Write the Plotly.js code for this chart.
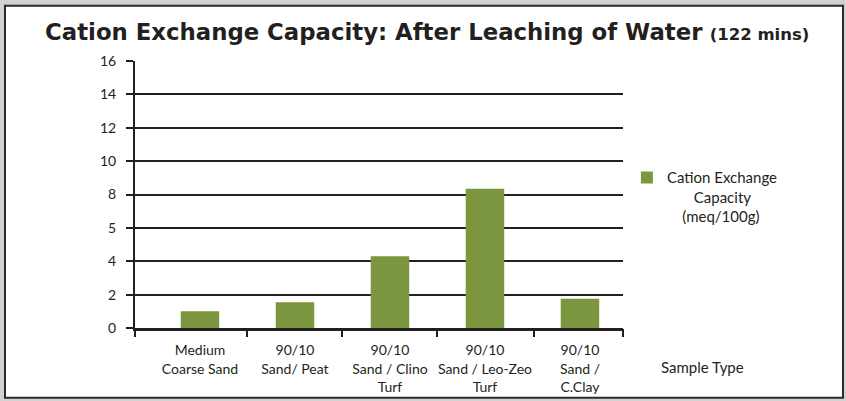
<!DOCTYPE html>
<html>
<head>
<meta charset="utf-8">
<script src="https://cdn.plot.ly/plotly-3.0.1.min.js"></script>
<style>html,body{margin:0;padding:0;background:#fff;}#chart{width:846px;height:401px;}</style>
</head>
<body>
<div id="chart"></div>
<script>
const categories = ["Medium<br>Coarse Sand", "90/10<br>Sand/ Peat", "90/10<br>Sand / Clino<br>Turf", "90/10<br>Sand / Leo-Zeo<br>Turf", "90/10<br>Sand /<br>C.Clay"];
const cecValues = [1.0, 1.55, 4.3, 8.35, 1.75];
const seriesName = "Cation Exchange<br>&nbsp;&nbsp;&nbsp;&nbsp;&nbsp;&nbsp;&nbsp;Capacity<br>&nbsp;&nbsp;&nbsp;&nbsp;(meq/100g)";
const yTickVals = [0, 2, 4, 6, 8, 10, 12, 14, 16];
const yTickText = ["0", "2", "4", "5", "8", "10", "12", "14", "16"];
const xBoundaries = [-0.684, 0.5, 1.5, 2.5, 3.52, 4.453];

const ink = "#231f20";
const font = "Lato, 'Open Sans', sans-serif";
const titleFont = "'DejaVu Sans', sans-serif";

const trace = {
  type: "bar",
  x: categories,
  y: cecValues,
  name: seriesName,
  marker: {color: "#7b963e"},
  showlegend: true,
  hoverinfo: "skip"
};
const ghost = {
  type: "scatter", x: [0], y: [0], xaxis: "x2", yaxis: "y",
  mode: "markers", marker: {opacity: 0}, showlegend: false, hoverinfo: "skip"
};

const layout = {
  width: 846, height: 401,
  margin: {l: 135, r: 223, t: 61, b: 73, pad: 0},
  paper_bgcolor: "#d2d2d2",
  plot_bgcolor: "rgba(0,0,0,0)",
  font: {family: font, color: ink, size: 14},
  bargap: 0.595,
  title: {
    text: "<b>Cation Exchange Capacity: After Leaching of Water</b> <b><span style='font-size:16.5px'>(122 mins)</span></b>",
    font: {family: titleFont, size: 22.8, color: ink},
    x: 0.505, xanchor: "center",
    y: 0.9, yanchor: "bottom", yref: "container"
  },
  xaxis: {
    type: "category",
    range: [-0.684, 4.453],
    showline: true, linecolor: ink, linewidth: 2.5,
    ticks: "", showgrid: false, zeroline: false,
    tickfont: {family: font, size: 14, color: ink},
    ticklabelstandoff: 8,
    fixedrange: true
  },
  xaxis2: {
    overlaying: "x", anchor: "y", side: "bottom",
    range: [-0.684, 4.453],
    tickvals: xBoundaries, ticktext: xBoundaries.map(() => ""),
    ticks: "outside", ticklen: 8, tickwidth: 2, tickcolor: ink,
    showgrid: false, zeroline: false, showline: false, showticklabels: false
  },
  yaxis: {
    range: [0, 16],
    tickvals: yTickVals, ticktext: yTickText,
    showgrid: true, gridcolor: ink, gridwidth: 2,
    zeroline: false,
    showline: true, linecolor: ink, linewidth: 2,
    ticks: "outside", ticklen: 7, tickwidth: 2, tickcolor: ink,
    tickfont: {family: font, size: 14, color: ink},
    ticklabelstandoff: 7,
    fixedrange: true
  },
  legend: {
    x: 1.008, xanchor: "left", y: 0.625, yanchor: "top",
    font: {family: font, size: 15, color: ink},
    bgcolor: "rgba(0,0,0,0)", valign: "top"
  },
  annotations: [{
    text: "Sample Type", xref: "paper", yref: "paper",
    x: 1.162, y: -0.146, xanchor: "center", yanchor: "middle", showarrow: false,
    font: {family: font, size: 15, color: ink}
  }],
  shapes: [{
    type: "rect", xref: "paper", yref: "paper", layer: "below",
    x0: -0.2664, x1: 1.4508, y0: -0.2616, y1: 1.207,
    fillcolor: "#ffffff", line: {color: "#2a2a2a", width: 2}
  }]
};

Plotly.newPlot("chart", [trace, ghost], layout, {displayModeBar: false, staticPlot: true});
</script>
</body>
</html>
